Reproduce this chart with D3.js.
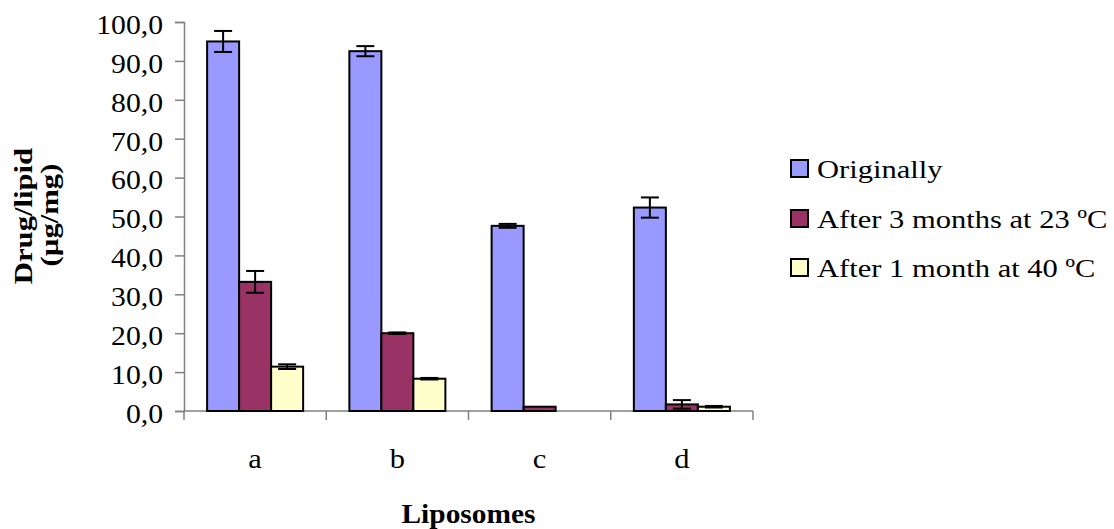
<!DOCTYPE html>
<html>
<head>
<meta charset="utf-8">
<script src="https://cdn.jsdelivr.net/npm/d3@7"></script>
<style>
  html, body { margin: 0; padding: 0; background: #fff; }
  svg text { font-family: "Liberation Serif", "DejaVu Serif", serif !important; }
</style>
</head>
<body>
<svg id="chart" width="1114" height="529"></svg>
<script>
// Liposome groups and series
const categories = ["a", "b", "c", "d"];
const seriesNames = ["Originally", "After 3 months at 23 ºC", "After 1 month at 40 ºC"];
const originally = [95.0, 92.5, 47.6, 52.3];
const originallyErr = [2.7, 1.3, 0.5, 2.6];
const after3m23 = [33.2, 20.0, 1.1, 1.7];
const after3m23Err = [2.8, 0.2, 0, 1.1];
const after1m40 = [11.4, 8.3, 0, 1.1];
const after1m40Err = [0.6, 0.2, 0, 0.2];
const yTicks = [0, 10, 20, 30, 40, 50, 60, 70, 80, 90, 100];
const colors = ["#9999FF", "#993366", "#FFFFCC"];

const values = [originally, after3m23, after1m40];
const errors = [originallyErr, after3m23Err, after1m40Err];

const svg = d3.select("#chart");
const plot = { left: 184, right: 753, top: 22, bottom: 411 };
const FS = 26;        // base font size
const STRETCH = 1.13; // glyphs are drawn slightly wide

// Place a horizontally stretched label at (x, y); rotate in degrees
function label(x, y, text, opts = {}) {
  const sx = opts.stretch || STRETCH;
  const g = svg.append("g")
    .attr("transform", `translate(${x},${y}) rotate(${opts.rotate || 0}) scale(${sx},1)`);
  return g.append("text")
    .attr("text-anchor", opts.anchor || "start")
    .attr("font-size", opts.size || FS)
    .attr("font-weight", opts.bold ? "bold" : null)
    .text(text);
}

const y = d3.scaleLinear().domain([0, 100]).range([plot.bottom, plot.top]);
const x0 = d3.scaleBand().domain(categories).range([plot.left, plot.right]).padding(0);
const groupW = x0.bandwidth() * 0.675;
const x1 = d3.scaleBand().domain(d3.range(seriesNames.length))
  .range([(x0.bandwidth() - groupW) / 2, (x0.bandwidth() + groupW) / 2]).padding(0);

const fmt = v => d3.format(".1f")(v).replace(".", ",");

// Y axis
const tickLen = 9, tickPad = 12, tickStretch = 1.1;
const yAxis = svg.append("g")
  .attr("transform", `translate(${plot.left},0)`)
  .call(d3.axisLeft(y).tickValues(yTicks).tickFormat(fmt).tickSize(tickLen).tickPadding(tickPad));
yAxis.attr("font-family", null).attr("font-size", null);
yAxis.select(".domain").attr("stroke", "#808080").attr("stroke-width", 1.5);
yAxis.selectAll(".tick line").attr("stroke", "#808080").attr("stroke-width", 1.5);
yAxis.selectAll(".tick text")
  .attr("font-size", FS + 1).attr("fill", "#000")
  .attr("x", -(tickLen + tickPad) / tickStretch)
  .attr("dy", "0.42em")
  .attr("transform", `scale(${tickStretch},1)`);

// X axis with ticks on category boundaries
const xg = svg.append("g");
xg.append("line")
  .attr("x1", plot.left).attr("x2", plot.right)
  .attr("y1", y(0)).attr("y2", y(0))
  .attr("stroke", "#808080").attr("stroke-width", 1.5);
const boundaries = categories.map(c => x0(c)).concat([x0(categories[categories.length - 1]) + x0.bandwidth()]);
xg.selectAll("line.bt").data(boundaries).join("line")
  .attr("class", "bt")
  .attr("x1", d => d).attr("x2", d => d)
  .attr("y1", y(0)).attr("y2", y(0) + tickLen)
  .attr("stroke", "#808080").attr("stroke-width", 1.5);
categories.forEach(c => {
  label(x0(c) + x0.bandwidth() / 2, 468, c, { anchor: "middle", size: FS + 1 });
});

// Bars
const bars = [];
values.forEach((arr, s) => arr.forEach((v, i) => {
  bars.push({ s, cat: categories[i], v, e: errors[s][i] });
}));

svg.append("g").selectAll("rect")
  .data(bars.filter(d => d.v > 0))
  .join("rect")
  .attr("x", d => x0(d.cat) + x1(d.s))
  .attr("y", d => y(d.v))
  .attr("width", x1.bandwidth())
  .attr("height", d => y(0) - y(d.v))
  .attr("fill", d => colors[d.s])
  .attr("stroke", "#000")
  .attr("stroke-width", 2);

// Error bars
const capW = 18;
const eg = svg.append("g").attr("stroke", "#000").attr("stroke-width", 2);
bars.filter(d => d.v > 0 && d.e > 0).forEach(d => {
  const cx = x0(d.cat) + x1(d.s) + x1.bandwidth() / 2;
  const yTop = y(d.v + d.e), yBot = y(d.v - d.e);
  eg.append("line").attr("x1", cx).attr("x2", cx).attr("y1", yTop).attr("y2", yBot);
  eg.append("line").attr("x1", cx - capW / 2).attr("x2", cx + capW / 2).attr("y1", yTop).attr("y2", yTop);
  eg.append("line").attr("x1", cx - capW / 2).attr("x2", cx + capW / 2).attr("y1", yBot).attr("y2", yBot);
});

// Axis titles
label(32, 216, "Drug/lipid", { anchor: "middle", rotate: -90, bold: true, stretch: 1.18 });
label(58, 215, "(µg/mg)", { anchor: "middle", rotate: -90, bold: true, stretch: 1.18 });
label((plot.left + plot.right) / 2, 523, "Liposomes", { anchor: "middle", bold: true, size: FS + 1, stretch: 1.09 });

// Legend
const legendBase = [178, 228, 277];
const sw = 17;
seriesNames.forEach((name, s) => {
  svg.append("rect")
    .attr("x", 791).attr("y", legendBase[s] - 18)
    .attr("width", sw).attr("height", sw)
    .attr("fill", colors[s]).attr("stroke", "#000").attr("stroke-width", 2);
  label(817, legendBase[s], name, { stretch: 1.175 });
});
</script>
</body>
</html>
